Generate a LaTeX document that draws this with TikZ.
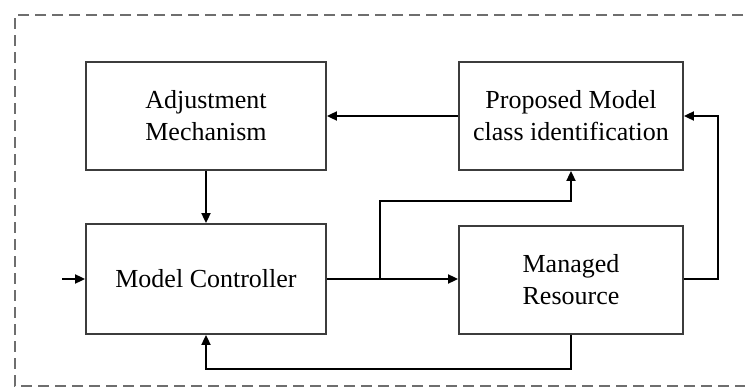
\documentclass[tikz,border=0pt]{standalone}
\usepackage{fontspec}
\setmainfont{Liberation Serif}
\usetikzlibrary{arrows.meta}
\definecolor{boxline}{RGB}{60,60,60}
\definecolor{frameline}{RGB}{110,110,110}
\tikzset{
  blk/.style={draw=boxline, line width=1.8pt, fill=white, align=center,
    font=\fontsize{26}{32}\selectfont, inner sep=0pt},
  conn/.style={draw=black, line width=1.8pt, -{Triangle[length=10pt,width=9pt]}},
  frame/.style={draw=frameline, line width=1.5pt, dash pattern=on 11pt off 6pt}
}
\begin{document}
\begin{tikzpicture}[x=1pt,y=-1pt]
\useasboundingbox (0,0) rectangle (745,388);
\fill[white] (0,0) rectangle (745,388);
\clip (0,0) rectangle (745,388);
\draw[frame] (760,15) -- (15,15) -- (15,386) -- (760,386);

\node[blk, minimum width=240pt, minimum height=108pt] (adj) at (206,116) {Adjustment\\Mechanism};
\node[blk, minimum width=224pt, minimum height=108pt] (prop) at (571,116) {Proposed Model\\class identification};
\node[blk, minimum width=240pt, minimum height=110pt] (mc) at (206,279) {Model Controller};
\node[blk, minimum width=224pt, minimum height=108pt] (mr) at (571,280) {Managed\\Resource};

\coordinate (in) at (62,279);
\coordinate (br) at (380,279);
\coordinate (brtop) at (380,201);
\coordinate (rt) at (718,279);
\coordinate (rtop) at (718,116);
\coordinate (bot) at (571,369);
\coordinate (botl) at (206,369);

\draw[conn] (in) -- (mc.west);
\draw[conn] (adj.south) -- (mc.north);
\draw[conn] (prop.west) -- (adj.east);
\draw[conn] (mc.east) -- (mr.west |- mc.east);
\draw[conn] (br) -- (brtop) -| (prop.south);
\draw[conn] (mr.east |- rt) -- (rt) -- (rtop) -- (prop.east);
\draw[conn] (mr.south) -- (bot) -- (botl) -- (mc.south);
\end{tikzpicture}
\end{document}
